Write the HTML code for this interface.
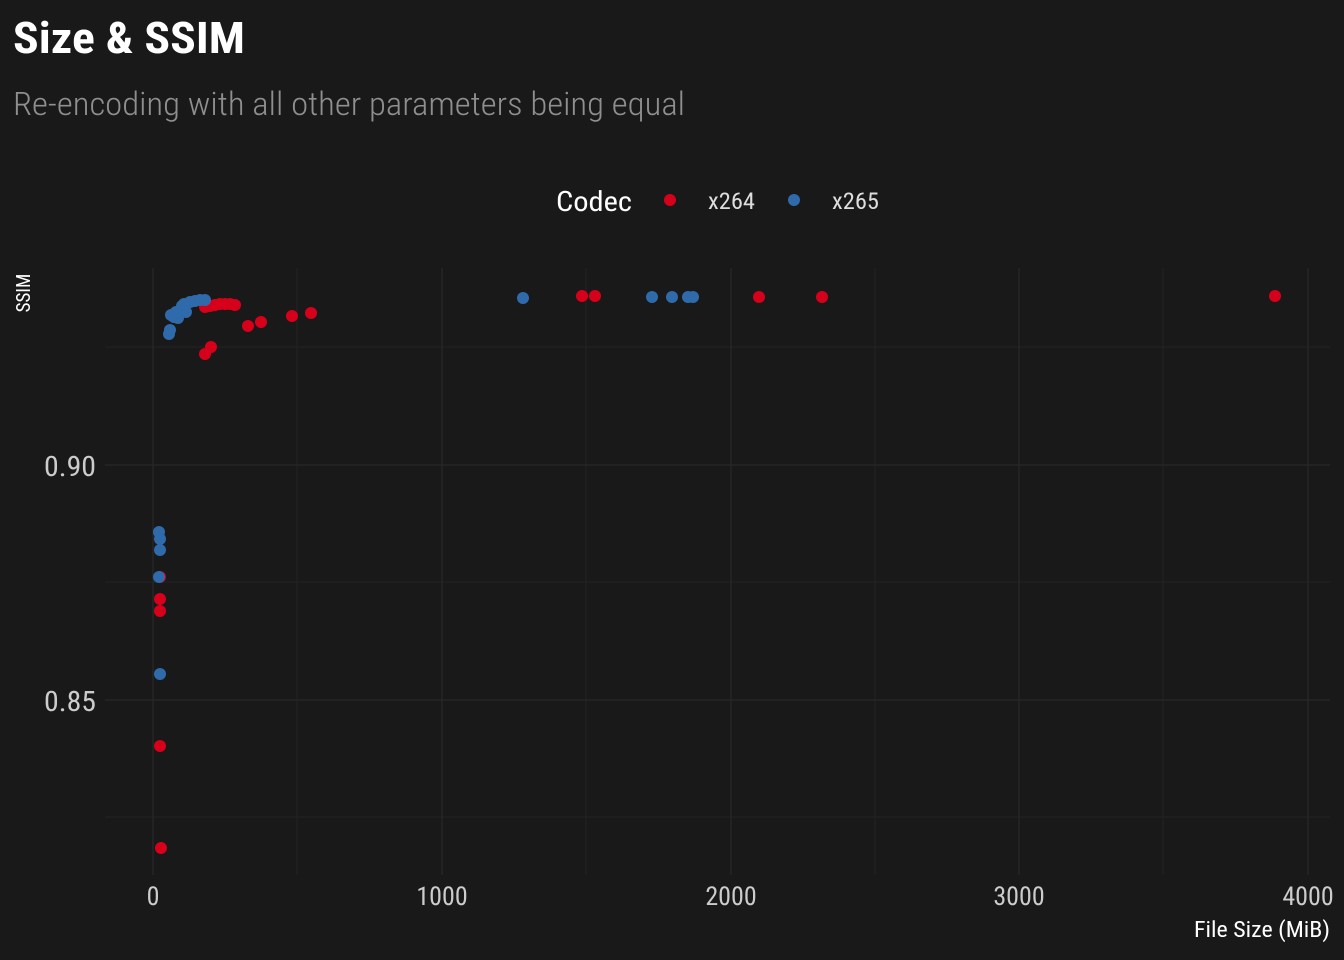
<!DOCTYPE html>
<html><head><meta charset="utf-8"><style>
body{margin:0;background:#191919;}
svg{display:block;font-family:"Roboto Condensed","Liberation Sans Narrow","Liberation Sans",sans-serif;}
</style></head><body>
<svg width="1344" height="960" viewBox="0 0 1344 960">
<rect width="1344" height="960" fill="#191919"/>
<text x="13" y="53" fill="#fff" font-size="44" font-weight="bold" textLength="232" lengthAdjust="spacingAndGlyphs">Size &amp; SSIM</text>
<text x="13" y="115" fill="#8f8f8f" font-size="32" font-weight="300" textLength="672" lengthAdjust="spacingAndGlyphs">Re-encoding with all other parameters being equal</text>
<text x="556" y="211" fill="#fff" font-size="28" textLength="76" lengthAdjust="spacingAndGlyphs">Codec</text>
<circle cx="670" cy="200" r="6" fill="#d7001b"/>
<text x="708" y="209" fill="#ddd" font-size="23" textLength="47" lengthAdjust="spacingAndGlyphs">x264</text>
<circle cx="794" cy="200" r="6" fill="#2f6aab"/>
<text x="832" y="209" fill="#ddd" font-size="23" textLength="47" lengthAdjust="spacingAndGlyphs">x265</text>
<g stroke="#222" stroke-width="1">
<line x1="105" x2="1330" y1="347" y2="347"/><line x1="105" x2="1330" y1="582" y2="582"/><line x1="105" x2="1330" y1="817" y2="817"/>
<line x1="297" x2="297" y1="268" y2="875"/><line x1="586" x2="586" y1="268" y2="875"/><line x1="875" x2="875" y1="268" y2="875"/><line x1="1163" x2="1163" y1="268" y2="875"/>
</g>
<g stroke="#282828" stroke-width="1.2">
<line x1="105" x2="1330" y1="465" y2="465"/><line x1="105" x2="1330" y1="700" y2="700"/>
<line x1="153" x2="153" y1="268" y2="875"/><line x1="442" x2="442" y1="268" y2="875"/><line x1="731" x2="731" y1="268" y2="875"/><line x1="1019" x2="1019" y1="268" y2="875"/><line x1="1308" x2="1308" y1="268" y2="875"/>
</g>
<g fill="#ccc" font-size="28">
<text x="44" y="476" textLength="52" lengthAdjust="spacingAndGlyphs">0.90</text><text x="44" y="711" textLength="52" lengthAdjust="spacingAndGlyphs">0.85</text>
</g>
<g fill="#ccc" font-size="26" text-anchor="middle">
<text x="153" y="905">0</text><text x="442" y="905">1000</text><text x="731" y="905">2000</text><text x="1019" y="905">3000</text><text x="1308" y="905">4000</text>
</g>
<text x="1194" y="937" fill="#fff" font-size="22" textLength="136" lengthAdjust="spacingAndGlyphs">File Size (MiB)</text>
<text transform="translate(30,293) rotate(-90)" fill="#fff" font-size="19" text-anchor="middle">SSIM</text>
<g fill="#d7001b">
<circle cx="205" cy="307" r="6"/><circle cx="210" cy="306" r="6"/><circle cx="215" cy="305" r="6"/><circle cx="220" cy="304" r="6"/><circle cx="225" cy="304" r="6"/><circle cx="230" cy="304" r="6"/><circle cx="235" cy="305" r="6"/>
<circle cx="248" cy="326" r="6"/><circle cx="261" cy="322" r="6"/><circle cx="292" cy="316" r="6"/><circle cx="311" cy="313" r="6"/>
<circle cx="205" cy="354" r="6"/><circle cx="211" cy="347" r="6"/>
<circle cx="582" cy="296" r="6"/><circle cx="595" cy="296" r="6"/><circle cx="759" cy="297" r="6"/><circle cx="822" cy="297" r="6"/><circle cx="1275" cy="296" r="6"/>
<circle cx="160" cy="577" r="6"/><circle cx="160" cy="599" r="6"/><circle cx="160" cy="611" r="6"/><circle cx="160" cy="746" r="6"/><circle cx="161" cy="848" r="6"/>
</g>
<g fill="#2f6aab">
<circle cx="169" cy="334" r="6"/><circle cx="170" cy="330" r="6"/><circle cx="171" cy="315" r="6"/><circle cx="174" cy="317" r="6"/><circle cx="178" cy="318" r="6"/><circle cx="182" cy="306" r="6"/><circle cx="186" cy="312" r="6"/><circle cx="190" cy="302" r="6"/><circle cx="195" cy="301" r="6"/><circle cx="200" cy="300" r="6"/><circle cx="205" cy="300" r="6"/><circle cx="176" cy="312" r="6"/><circle cx="184" cy="304" r="6"/>
<circle cx="523" cy="298" r="6"/><circle cx="652" cy="297" r="6"/><circle cx="672" cy="297" r="6"/><circle cx="688" cy="297" r="6"/><circle cx="693" cy="297" r="6"/>
<circle cx="159" cy="532" r="6"/><circle cx="160" cy="539" r="6"/><circle cx="160" cy="550" r="6"/><circle cx="159" cy="577" r="6"/><circle cx="160" cy="674" r="6"/>
</g>
</svg>
</body></html>
